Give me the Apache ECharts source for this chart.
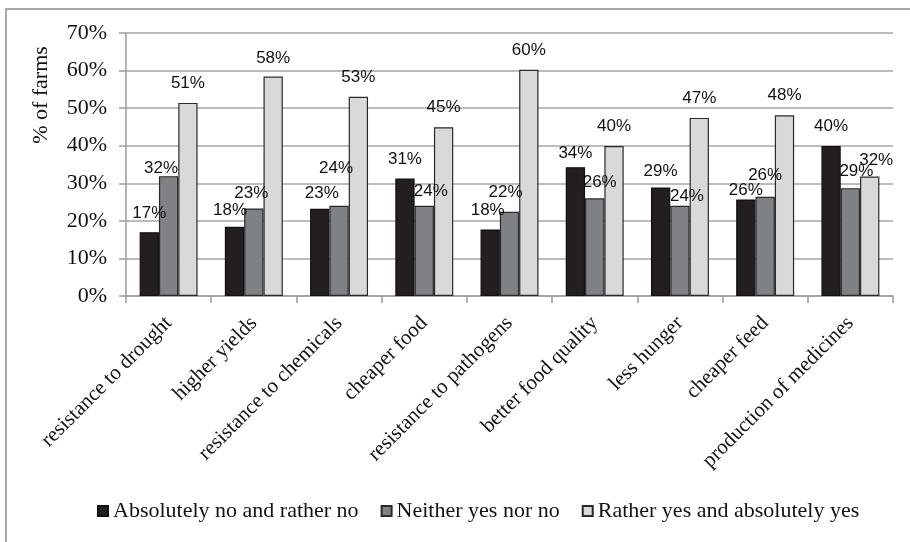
<!DOCTYPE html>
<html>
<head>
<meta charset="utf-8">
<script src="https://cdn.jsdelivr.net/npm/echarts@6/dist/echarts.min.js"></script>
<style>
  html, body { margin: 0; padding: 0; background: #fff; }
  #chart { width: 910px; height: 542px; }
</style>
</head>
<body>
<div id="chart"></div>
<script>
// Survey answers: share of farms per expected benefit
const categories = [
  'resistance to drought', 'higher yields', 'resistance to chemicals',
  'cheaper food', 'resistance to pathogens', 'better food quality',
  'less hunger', 'cheaper feed', 'production of medicines'
];
const seriesNames = [
  'Absolutely no and rather no',
  'Neither yes nor no',
  'Rather yes and absolutely yes'
];
const absolutelyNo = [17.0, 18.4, 23.2, 31.3, 17.7, 34.3, 28.9, 25.7, 39.9];
const neitherYesNo = [31.9, 23.3, 24.0, 24.0, 22.4, 26.0, 24.0, 26.4, 28.7];
const ratherYes    = [51.4, 58.4, 53.0, 44.9, 60.2, 39.9, 47.4, 48.1, 31.8];
const yTicks = [0, 10, 20, 30, 40, 50, 60, 70];

// hand-placed label nudges [dx, dy] so overlapping labels stay readable
const nudgeA = [[0,1],[-4.5,3],[2,4],[0,0],[-2.5,0],[0,6],[0,3],[0,10],[0,0]];
const nudgeB = [[-7.5,12],[-2.5,4],[-3,-18],[6.5,5],[-4,0],[5,3],[7,10],[0,-2],[6,3]];
const nudgeC = [[0,0],[0,1],[0,0],[0,0],[0,0],[0,0],[0,0],[0,0],[6.5,3]];

const serif = '"Liberation Serif", "Times New Roman", serif';
const sans = '"Liberation Sans", Arial, sans-serif';
const fills = ['#231f20', '#808184', '#d9d9da'];
const borders = ['#111111', '#2a2a2a', '#2a2a2a'];

function makeSeries(idx, values, nudges) {
  return {
    name: seriesNames[idx],
    type: 'bar',
    barGap: '0%',
    barCategoryGap: '32%',
    itemStyle: { color: fills[idx], borderColor: borders[idx], borderWidth: 1.2 },
    label: {
      show: true,
      position: 'top',
      distance: 11,
      fontFamily: sans,
      fontSize: 17,
      color: '#111',
      formatter: p => Math.round(p.value) + '%'
    },
    data: values.map((v, i) => ({ value: v, label: { offset: nudges[i] } }))
  };
}

const chart = echarts.init(document.getElementById('chart'), null, { renderer: 'canvas' });
chart.setOption({
  animation: false,
  backgroundColor: '#fff',
  grid: { left: 126, right: 17, top: 33, bottom: 246, containLabel: false },
  xAxis: {
    type: 'category',
    data: categories,
    axisLine: { lineStyle: { color: '#9a9a9a', width: 1.5 } },
    axisTick: { show: true, length: 7, lineStyle: { color: '#9a9a9a', width: 1.5 } },
    axisLabel: {
      rotate: 45,
      interval: 0,
      margin: 24,
      fontFamily: serif,
      fontSize: 21,
      color: '#111'
    }
  },
  yAxis: {
    type: 'value',
    min: 0,
    max: 70,
    interval: 10,
    axisLine: { show: true, lineStyle: { color: '#9a9a9a', width: 1.5 } },
    axisTick: { show: true, length: 7, lineStyle: { color: '#9a9a9a', width: 1.5 } },
    splitLine: { lineStyle: { color: '#a6a6a6', width: 1.5 } },
    axisLabel: {
      margin: 19,
      fontFamily: serif,
      fontSize: 22,
      color: '#111',
      customValues: yTicks,
      formatter: v => v + '%'
    }
  },
  legend: {
    left: 92,
    top: 495,
    itemWidth: 10,
    itemHeight: 10,
    itemGap: 22,
    icon: 'rect',
    textStyle: { fontFamily: serif, fontSize: 22, color: '#111' },
    data: seriesNames
  },
  graphic: [
    {
      type: 'rect',
      shape: { x: 6, y: 9, width: 920, height: 560 },
      style: { fill: null, stroke: '#8c8c8c', lineWidth: 1.5 },
      silent: true
    },
    {
      type: 'text',
      x: 41,
      y: 95,
      rotation: Math.PI / 2,
      style: {
        text: '% of farms',
        fontFamily: serif,
        fontSize: 22,
        fill: '#111',
        align: 'center',
        verticalAlign: 'middle'
      }
    }
  ],
  series: [
    makeSeries(0, absolutelyNo, nudgeA),
    makeSeries(1, neitherYesNo, nudgeB),
    makeSeries(2, ratherYes, nudgeC)
  ]
});
</script>
</body>
</html>
